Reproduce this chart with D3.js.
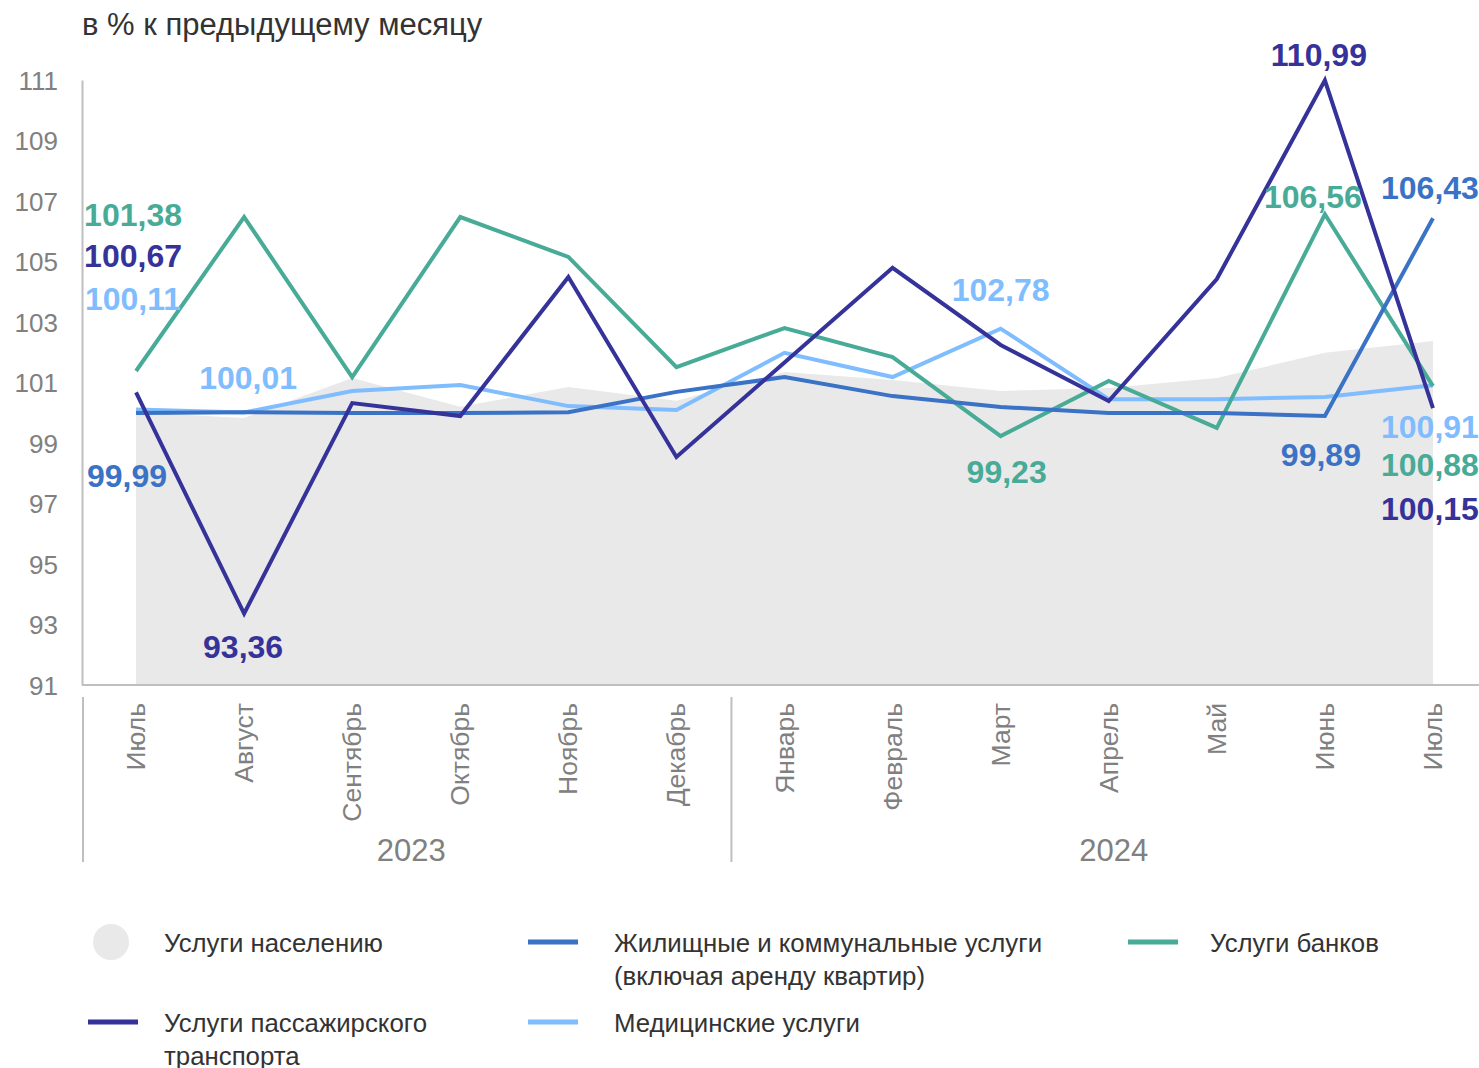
<!DOCTYPE html>
<html>
<head>
<meta charset="utf-8">
<script src="https://cdn.jsdelivr.net/npm/d3@7"></script>
<style>
  body { margin: 0; background: #fff; font-family: "Liberation Sans", Arial, sans-serif; }
  .axis text { fill: #808080; font-size: 26px; }
  .axis path { stroke: #bfbfbf; stroke-width: 2; }
  .legend text { fill: #333; font-size: 25.8px; }
  .series { fill: none; stroke-width: 4; }
  .value-label { font-size: 32px; font-weight: bold; text-anchor: middle; }
</style>
</head>
<body>
<div id="chart"></div>
<script>
// Months, July 2023 - July 2024
const months = ["Июль", "Август", "Сентябрь", "Октябрь", "Ноябрь", "Декабрь",
                "Январь", "Февраль", "Март", "Апрель", "Май", "Июнь", "Июль"];
const years = [{ label: "2023", from: 0, to: 5 }, { label: "2024", from: 6, to: 12 }];
const yTicks = [91, 93, 95, 97, 99, 101, 103, 105, 107, 109, 111];

// % к предыдущему месяцу
const servicesTotal = [100.02, 99.83, 101.15, 100.2, 100.85, 100.4, 101.35, 101.08, 100.72, 100.82, 101.15, 101.98, 102.37];
const housing       = [99.99, 100.02, 99.99, 99.99, 100.02, 100.69, 101.18, 100.55, 100.19, 99.99, 99.99, 99.89, 106.43];
const transport     = [100.67, 93.36, 100.32, 99.89, 104.49, 98.54, 101.66, 104.79, 102.24, 100.39, 104.42, 110.99, 100.15];
const medical       = [100.11, 100.01, 100.72, 100.92, 100.22, 100.09, 101.98, 101.18, 102.78, 100.45, 100.45, 100.52, 100.91];
const banks         = [101.38, 106.47, 101.18, 106.47, 105.15, 101.51, 102.80, 101.84, 99.23, 101.05, 99.50, 106.56, 100.88];

class ServicesChart {

  constructor(_config) {
    this.config = {
      parentElement: _config.parentElement,
      containerWidth: 1479,
      containerHeight: 1068
    }
    this.config.margin = { top: 80, left: 82, right: 0 };
    this.config.plotBottom = 685;
    this.initVis();
  }

  initVis() {
    let vis = this;

    vis.svg = d3.select(vis.config.parentElement).append("svg")
        .attr("width", vis.config.containerWidth)
        .attr("height", vis.config.containerHeight);

    vis.xScale = d3.scaleBand()
        .domain(d3.range(months.length))
        .range([vis.config.margin.left, 1487])
        .paddingInner(0);

    vis.yScale = d3.scaleLinear()
        .domain([91, 111])
        .range([vis.config.plotBottom, vis.config.margin.top]);

    vis.x = i => vis.xScale(i) + vis.xScale.bandwidth() / 2;

    vis.series = [
      { name: "medical", values: medical, color: "#80bdff" },
      { name: "banks", values: banks, color: "#48ab97" },
      { name: "housing", values: housing, color: "#3a72c5" },
      { name: "transport", values: transport, color: "#35329a" }
    ];
    vis.colors = {};
    vis.series.forEach(s => vis.colors[s.name] = s.color);

    // which points carry a value label, and where it sits relative to the point
    vis.labels = [
      { s: "banks", i: 0, dx: -3, dy: -145 },
      { s: "transport", i: 0, dx: -3, dy: -125 },
      { s: "medical", i: 0, dx: -3, dy: -99 },
      { s: "housing", i: 0, dx: -9, dy: 74 },
      { s: "medical", i: 1, dx: 4, dy: -23 },
      { s: "transport", i: 1, dx: -1, dy: 44 },
      { s: "medical", i: 8, dx: 0, dy: -28 },
      { s: "banks", i: 8, dx: 6, dy: 47 },
      { s: "transport", i: 11, dx: -6, dy: -14 },
      { s: "banks", i: 11, dx: -12, dy: -6 },
      { s: "housing", i: 11, dx: -4, dy: 50 },
      { s: "housing", i: 12, dx: -3, dy: -19 },
      { s: "medical", i: 12, dx: -3, dy: 53 },
      { s: "banks", i: 12, dx: -3, dy: 90 },
      { s: "transport", i: 12, dx: -3, dy: 112 }
    ];

    vis.updateVis();
  }

  updateVis() {
    let vis = this;
    const fmt = v => d3.format(".2f")(v).replace(".", ",");

    // title
    vis.svg.append("text")
        .attr("x", 82)
        .attr("y", 35)
        .attr("fill", "#333")
        .attr("font-size", 31)
        .text("в % к предыдущему месяцу");

    // area: услуги населению
    let area = d3.area()
        .x((d, i) => vis.x(i))
        .y0(vis.yScale(91))
        .y1(d => vis.yScale(d));

    vis.svg.append("path")
        .datum(servicesTotal)
        .attr("fill", "#e9e9e9")
        .attr("d", area);

    // y axis
    vis.svg.append("g")
        .attr("class", "axis axis--y")
        .attr("transform", `translate(${vis.config.margin.left},0)`)
        .call(d3.axisLeft(vis.yScale).tickValues(yTicks).tickSize(0).tickPadding(24).tickSizeOuter(0))
      .selectAll("text")
        .attr("dy", "0.35em");

    // x axis line
    vis.svg.append("line")
        .attr("x1", vis.config.margin.left)
        .attr("x2", 1479)
        .attr("y1", vis.config.plotBottom)
        .attr("y2", vis.config.plotBottom)
        .attr("stroke", "#bfbfbf")
        .attr("stroke-width", 2);

    // month labels
    vis.svg.append("g")
        .selectAll("text")
        .data(months)
      .join("text")
        .attr("transform", (d, i) => `translate(${vis.x(i) + 9},703) rotate(-90)`)
        .attr("text-anchor", "end")
        .attr("fill", "#808080")
        .attr("font-size", 26.5)
        .text(d => d);

    // year groups
    let groupEdges = [vis.xScale(years[0].from), vis.xScale(years[1].from)];
    vis.svg.selectAll(".year-sep")
        .data(groupEdges)
      .join("line")
        .attr("class", "year-sep")
        .attr("x1", d => d + 1)
        .attr("x2", d => d + 1)
        .attr("y1", 697)
        .attr("y2", 862)
        .attr("stroke", "#bfbfbf")
        .attr("stroke-width", 2);

    vis.svg.selectAll(".year-label")
        .data(years)
      .join("text")
        .attr("class", "year-label")
        .attr("x", d => (vis.x(d.from) + vis.x(d.to)) / 2 + 5)
        .attr("y", 861)
        .attr("text-anchor", "middle")
        .attr("fill", "#808080")
        .attr("font-size", 31)
        .text(d => d.label);

    // lines
    let line = d3.line()
        .x((d, i) => vis.x(i))
        .y(d => vis.yScale(d));

    vis.svg.selectAll(".series")
        .data(vis.series)
      .join("path")
        .attr("class", "series")
        .attr("stroke", d => d.color)
        .attr("d", d => line(d.values));

    // value labels
    let lookup = { housing, transport, medical, banks };
    vis.svg.selectAll(".value-label")
        .data(vis.labels)
      .join("text")
        .attr("class", "value-label")
        .attr("x", d => vis.x(d.i) + d.dx)
        .attr("y", d => vis.yScale(lookup[d.s][d.i]) + d.dy)
        .attr("fill", d => vis.colors[d.s])
        .text(d => fmt(lookup[d.s][d.i]));

    // legend
    let legend = vis.svg.append("g").attr("class", "legend");
    let items = [
      { type: "dot", color: "#e9e9e9", x: 88, y: 942, lines: ["Услуги населению"] },
      { type: "line", color: vis.colors.housing, x: 528, y: 942, lines: ["Жилищные и коммунальные услуги", "(включая аренду квартир)"] },
      { type: "line", color: vis.colors.banks, x: 1128, y: 942, lines: ["Услуги банков"] },
      { type: "line", color: vis.colors.transport, x: 88, y: 1022, lines: ["Услуги пассажирского", "транспорта"] },
      { type: "line", color: vis.colors.medical, x: 528, y: 1022, lines: ["Медицинские услуги"] }
    ];
    let textX = { 88: 164, 528: 614, 1128: 1210 };

    items.forEach(it => {
      if (it.type === "dot") {
        legend.append("circle")
            .attr("cx", it.x + 23)
            .attr("cy", it.y)
            .attr("r", 18)
            .attr("fill", it.color);
      } else {
        legend.append("line")
            .attr("x1", it.x).attr("x2", it.x + 50)
            .attr("y1", it.y).attr("y2", it.y)
            .attr("stroke", it.color)
            .attr("stroke-width", 5);
      }
      let t = legend.append("text")
          .attr("x", textX[it.x])
          .attr("y", it.y + 10);
      it.lines.forEach((l, k) => {
        t.append("tspan")
            .attr("x", textX[it.x])
            .attr("dy", k === 0 ? 0 : 33)
            .text(l);
      });
    });
  }
}

new ServicesChart({ parentElement: "#chart" });
</script>
</body>
</html>
